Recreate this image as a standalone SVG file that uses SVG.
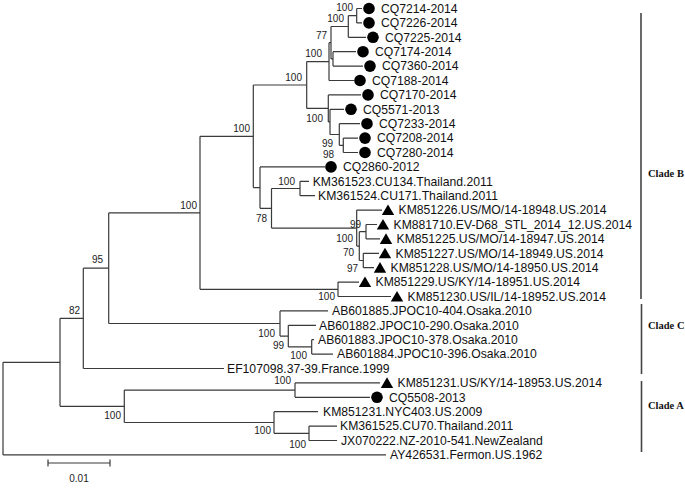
<svg xmlns="http://www.w3.org/2000/svg" width="685" height="494" viewBox="0 0 685 494">
<style>
.br{fill:none;stroke:#3a3a3a;stroke-width:1.2}
.lf{font-family:"Liberation Sans",Arial,sans-serif;font-size:12.2px;fill:#111}
.bs{font-family:"Liberation Sans",Arial,sans-serif;font-size:10px;fill:#222;text-anchor:end}
.cl{font-family:"Liberation Serif","Times New Roman",serif;font-size:10.5px;font-weight:bold;fill:#111}
.bar{stroke:#444;stroke-width:1.6}
.dot{fill:#000}
</style>
<defs>
<circle id="c" r="5.8"/>
<polygon id="t" points="0,-5.6 6.2,5 -6.2,5"/>
</defs>
<rect width="685" height="494" fill="#fff"/>
<g id="connectors" class="br">
<path d="M3 362.3V454.9M3 362.3H60M3 454.9H386"/>
<path d="M60 318.3V406.3M60 318.3H83.3M60 406.3H124.3"/>
<path d="M83.3 268.2V368.5M83.3 368.5H224M83.3 268.2H108.7"/>
<path d="M108.7 212.8V323.5M108.7 212.8H200M108.7 323.5H280"/>
<path d="M200 136.3V289.3M200 136.3H253.3M200 289.3H338"/>
<path d="M338 282.1V296.5M338 282.1H359M338 296.5H391"/>
<path d="M253.3 85V187.6M253.3 85H306.7M253.3 187.6H260"/>
<path d="M306.7 61.6V108.4M306.7 61.6H329M306.7 108.4H328.3"/>
<path d="M329 42.7V80.5M329 42.7H331M329 80.5H354"/>
<path d="M331 26.5V58.9M331 26.5H348.3M331 58.9H333"/>
<path d="M333 51.7V66.1M333 51.7H356M333 66.1H363"/>
<path d="M348.3 15.7V37.3M348.3 15.7H356.7M348.3 37.3H366"/>
<path d="M356.7 8.5V22.9M356.7 8.5H362M356.7 22.9H362"/>
<path d="M328.3 94.9V121.9M328.3 94.9H361M328.3 121.9H330"/>
<path d="M330 109.3V134.5M330 109.3H344M330 134.5H339.3"/>
<path d="M339.3 123.7V145.3M339.3 123.7H360M339.3 145.3H343.3"/>
<path d="M343.3 138.1V152.5M343.3 138.1H358M343.3 152.5H358"/>
<path d="M260 166.9V208.3M260 166.9H325M260 208.3H271.5"/>
<path d="M271.5 188.5V228.1M271.5 188.5H300M271.5 228.1H356.7"/>
<path d="M300 181.3V195.7M300 181.3H309M300 195.7H315"/>
<path d="M356.7 210.1V246.1M356.7 210.1H382M356.7 246.1H359.3"/>
<path d="M359.3 231.7V260.5M359.3 231.7H366M359.3 260.5H363.3"/>
<path d="M366 224.5V238.9M366 224.5H377M366 238.9H380"/>
<path d="M363.3 253.3V267.7M363.3 253.3H379M363.3 267.7H374"/>
<path d="M280 310.9V336.1M280 310.9H328M280 336.1H288.3"/>
<path d="M288.3 325.3V346.9M288.3 325.3H316M288.3 346.9H311.7"/>
<path d="M311.7 339.7V354.1M311.7 339.7H314M311.7 354.1H333"/>
<path d="M124.3 390.1V422.5M124.3 390.1H295M124.3 422.5H274"/>
<path d="M295 382.9V397.3M295 382.9H380M295 397.3H370"/>
<path d="M274 411.7V433.3M274 411.7H318M274 433.3H309"/>
<path d="M309 426.1V440.5M309 426.1H337M309 440.5H337"/>
</g>
<g id="bootstrap" class="bs">
<text x="353" y="11">100</text>
<text x="344" y="22">100</text>
<text x="327" y="38.5">77</text>
<text x="322" y="56.5">100</text>
<text x="302" y="80.5">100</text>
<text x="323" y="121.5">100</text>
<text x="333" y="147">99</text>
<text x="334" y="157.5">98</text>
<text x="250" y="131.5">100</text>
<text x="197" y="208.5">100</text>
<text x="295" y="184.5">100</text>
<text x="267" y="222">78</text>
<text x="361" y="227.5">99</text>
<text x="353" y="241.5">100</text>
<text x="354" y="255.5">70</text>
<text x="358" y="271.5">97</text>
<text x="335" y="300">100</text>
<text x="103" y="262.5">95</text>
<text x="80" y="313.5">82</text>
<text x="275" y="336.5">100</text>
<text x="284" y="348.5">99</text>
<text x="307" y="358.5">100</text>
<text x="291" y="383.5">100</text>
<text x="121" y="419">100</text>
<text x="271" y="434">100</text>
<text x="306" y="447.5">100</text>
</g>
<g id="n1"><use href="#c" x="369" y="8.5" class="dot"/><text class="lf" x="381" y="12.8">CQ7214-2014</text></g>
<g id="n2"><use href="#c" x="369" y="22.9" class="dot"/><text class="lf" x="381" y="27.2">CQ7226-2014</text></g>
<g id="n3"><use href="#c" x="373" y="37.3" class="dot"/><text class="lf" x="385" y="41.6">CQ7225-2014</text></g>
<g id="n4"><use href="#c" x="363" y="51.7" class="dot"/><text class="lf" x="375" y="56">CQ7174-2014</text></g>
<g id="n5"><use href="#c" x="370" y="66.1" class="dot"/><text class="lf" x="382" y="70.4">CQ7360-2014</text></g>
<g id="n6"><use href="#c" x="360" y="80.5" class="dot"/><text class="lf" x="372" y="84.8">CQ7188-2014</text></g>
<g id="n7"><use href="#c" x="368" y="94.9" class="dot"/><text class="lf" x="380" y="99.2">CQ7170-2014</text></g>
<g id="n8"><use href="#c" x="351" y="109.3" class="dot"/><text class="lf" x="363" y="113.6">CQ5571-2013</text></g>
<g id="n9"><use href="#c" x="367" y="123.7" class="dot"/><text class="lf" x="379" y="128">CQ7233-2014</text></g>
<g id="n10"><use href="#c" x="365" y="138.1" class="dot"/><text class="lf" x="377" y="142.4">CQ7208-2014</text></g>
<g id="n11"><use href="#c" x="365" y="152.5" class="dot"/><text class="lf" x="377" y="156.8">CQ7280-2014</text></g>
<g id="n12"><use href="#c" x="331" y="166.9" class="dot"/><text class="lf" x="343" y="171.2">CQ2860-2012</text></g>
<g id="n13"><text class="lf" x="312.7" y="185.6">KM361523.CU134.Thailand.2011</text></g>
<g id="n14"><text class="lf" x="318" y="200">KM361524.CU171.Thailand.2011</text></g>
<g id="n15"><use href="#t" x="388" y="210.1" class="dot"/><text class="lf" x="398.5" y="214.4">KM851226.US/MO/14-18948.US.2014</text></g>
<g id="n16"><use href="#t" x="383" y="224.5" class="dot"/><text class="lf" x="393.5" y="228.8">KM881710.EV-D68_STL_2014_12.US.2014</text></g>
<g id="n17"><use href="#t" x="386" y="238.9" class="dot"/><text class="lf" x="396.5" y="243.2">KM851225.US/MO/14-18947.US.2014</text></g>
<g id="n18"><use href="#t" x="385" y="253.3" class="dot"/><text class="lf" x="395.5" y="257.6">KM851227.US/MO/14-18949.US.2014</text></g>
<g id="n19"><use href="#t" x="380" y="267.7" class="dot"/><text class="lf" x="390.5" y="272">KM851228.US/MO/14-18950.US.2014</text></g>
<g id="n20"><use href="#t" x="365" y="282.1" class="dot"/><text class="lf" x="375.5" y="286.4">KM851229.US/KY/14-18951.US.2014</text></g>
<g id="n21"><use href="#t" x="397" y="296.5" class="dot"/><text class="lf" x="407.5" y="300.8">KM851230.US/IL/14-18952.US.2014</text></g>
<g id="n22"><text class="lf" x="332" y="315.2">AB601885.JPOC10-404.Osaka.2010</text></g>
<g id="n23"><text class="lf" x="319" y="329.6">AB601882.JPOC10-290.Osaka.2010</text></g>
<g id="n24"><text class="lf" x="318" y="344">AB601883.JPOC10-378.Osaka.2010</text></g>
<g id="n25"><text class="lf" x="337" y="358.4">AB601884.JPOC10-396.Osaka.2010</text></g>
<g id="n26"><text class="lf" x="227" y="372.8">EF107098.37-39.France.1999</text></g>
<g id="n27"><use href="#t" x="387" y="382.9" class="dot"/><text class="lf" x="397.5" y="387.2">KM851231.US/KY/14-18953.US.2014</text></g>
<g id="n28"><use href="#c" x="377" y="397.3" class="dot"/><text class="lf" x="389" y="401.6">CQ5508-2013</text></g>
<g id="n29"><text class="lf" x="323" y="416">KM851231.NYC403.US.2009</text></g>
<g id="n30"><text class="lf" x="340" y="430.4">KM361525.CU70.Thailand.2011</text></g>
<g id="n31"><text class="lf" x="341" y="444.8">JX070222.NZ-2010-541.NewZealand</text></g>
<g id="n32"><text class="lf" x="390" y="459.2">AY426531.Fermon.US.1962</text></g>
<g id="cladeB"><line class="bar" x1="641" y1="13" x2="641" y2="299"/><text class="cl" x="648" y="177">Clade B</text></g>
<g id="cladeC"><line class="bar" x1="641.5" y1="304" x2="641.5" y2="374"/><text class="cl" x="648" y="329">Clade C</text></g>
<g id="cladeA"><line class="bar" x1="641.5" y1="381" x2="641.5" y2="452"/><text class="cl" x="648" y="409">Clade A</text></g>
<g id="scale"><path class="br" d="M48 463H110M48 459.5V466.5M110 459.5V466.5"/><text x="79" y="482" font-family="Liberation Sans, Arial, sans-serif" font-size="10" fill="#222" text-anchor="middle">0.01</text></g>
</svg>
